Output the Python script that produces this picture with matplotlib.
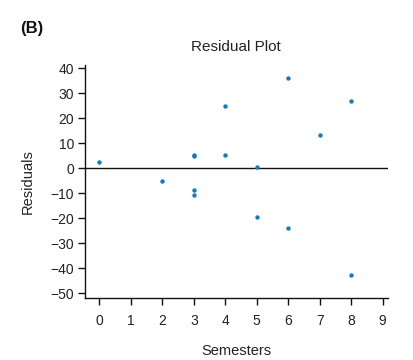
import matplotlib.pyplot as plt

plt.rcParams['font.family'] = ['Liberation Sans', 'DejaVu Sans']

# Residuals
semesters = [0, 2, 3, 3, 3, 3, 4, 4, 5, 5, 6, 6, 7, 8, 8]
residuals = [2.7, -5.1, 4.8, 5.4, -8.7, -10.7, 25.1, 5.3, 0.5, -19.5, 36.0, -23.9, 13.5, 27.0, -42.8]
x_ticks = list(range(0, 10))
y_ticks = list(range(-50, 41, 10))

fig = plt.figure(figsize=(4.14, 3.6), dpi=100)
ax = fig.add_axes([0.2053, 0.1714, 0.7312, 0.648])

ax.scatter(semesters, residuals, s=10, color='#0a7ccc', linewidths=0, zorder=3)
ax.axhline(0, color='#111111', lw=1.0, zorder=2)

ax.set_xlim(-0.46, 9.16)
ax.set_ylim(-52, 41.3)
ax.set_xticks(x_ticks)
ax.set_yticks(y_ticks)

for side in ['top', 'right']:
    ax.spines[side].set_visible(False)
for side in ['left', 'bottom']:
    ax.spines[side].set_linewidth(1.0)
    ax.spines[side].set_color('#111111')

ax.tick_params(direction='out', length=5, width=1.0, color='#111111',
               labelsize=10, labelcolor='#222222', pad=3)
ax.tick_params(axis='x', pad=6)

ax.set_title('Residual Plot', fontsize=11, color='#222222', pad=10)
ax.set_xlabel('Semesters', fontsize=10.5, color='#222222', labelpad=12)
ax.set_ylabel('Residuals', fontsize=10.5, color='#222222', labelpad=11)

fig.text(20 / 414, 1 - 28 / 360, '(B)', fontsize=12, fontweight='bold',
         color='#111111', va='center')

fig.savefig('out.png', dpi=100)
